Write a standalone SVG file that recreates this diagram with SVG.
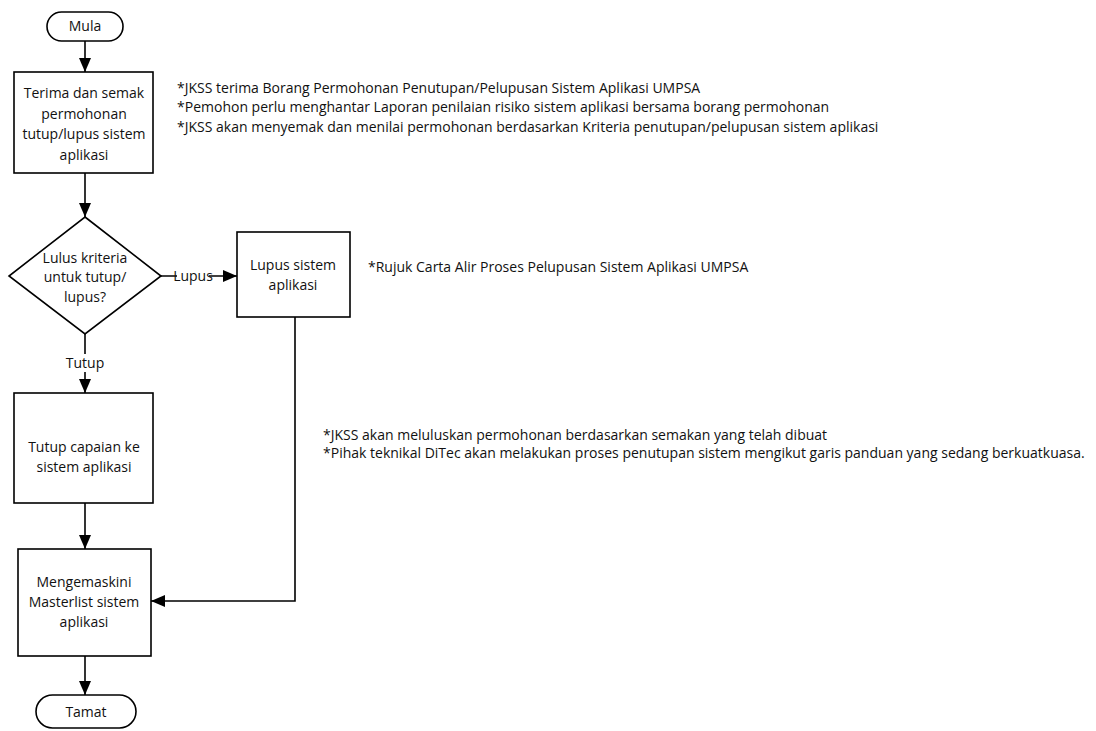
<svg xmlns="http://www.w3.org/2000/svg" width="1096" height="731" viewBox="0 0 1096 731">
<defs>
<style>
text{font-family:"Open Sans","Liberation Sans",sans-serif;font-size:14px;fill:#111}
.c{text-anchor:middle}
.s{fill:#fff;stroke:#000;stroke-width:1.6}
.l{fill:none;stroke:#000;stroke-width:1.6}
</style>
<marker id="ah" markerWidth="14" markerHeight="12" refX="14" refY="6" orient="auto" markerUnits="userSpaceOnUse">
<path d="M0,0 L14,6 L0,12 Z" fill="#000"/>
</marker>
</defs>
<rect width="1096" height="731" fill="#fff"/>
<g id="connectors">
<path class="l" d="M85,41 V72" marker-end="url(#ah)"/>
<path class="l" d="M85,173 V217" marker-end="url(#ah)"/>
<path class="l" d="M159,276 H237" marker-end="url(#ah)"/>
<path class="l" d="M85,334 V354"/>
<path class="l" d="M85,372 V393" marker-end="url(#ah)"/>
<path class="l" d="M85,503 V549" marker-end="url(#ah)"/>
<path class="l" d="M295,317 V601 H151" marker-end="url(#ah)"/>
<path class="l" d="M85,656 V695" marker-end="url(#ah)"/>
<rect x="177" y="268" width="32" height="17" fill="#fff"/>
<text x="193" y="281" class="c">Lupus</text>
<text x="85" y="368" class="c">Tutup</text>
</g>
<g id="mula">
<rect class="s" x="47" y="12" width="76" height="29" rx="14.5"/>
<text x="85" y="31" class="c">Mula</text>
</g>
<g id="terima">
<rect class="s" x="14" y="72" width="139" height="101"/>
<text x="84" y="98" class="c">Terima dan semak</text>
<text x="84" y="119" class="c">permohonan</text>
<text x="84" y="139" class="c">tutup/lupus sistem</text>
<text x="84" y="160" class="c">aplikasi</text>
</g>
<g id="note1">
<text x="177" y="93">*JKSS terima Borang Permohonan Penutupan/Pelupusan Sistem Aplikasi UMPSA</text>
<text x="177" y="112">*Pemohon perlu menghantar Laporan penilaian risiko sistem aplikasi bersama borang permohonan</text>
<text x="177" y="132">*JKSS akan menyemak dan menilai permohonan berdasarkan Kriteria penutupan/pelupusan sistem aplikasi</text>
</g>
<g id="keputusan">
<path class="s" d="M85,217 L161,276 L85,334 L9,276 Z"/>
<text x="85" y="263" class="c">Lulus kriteria</text>
<text x="85" y="282" class="c">untuk tutup/</text>
<text x="85" y="302" class="c">lupus?</text>
</g>
<g id="lupus">
<rect class="s" x="237" y="232" width="113" height="85"/>
<text x="293" y="270" class="c">Lupus sistem</text>
<text x="293" y="290" class="c">aplikasi</text>
</g>
<g id="note2">
<text x="368" y="272">*Rujuk Carta Alir Proses Pelupusan Sistem Aplikasi UMPSA</text>
</g>
<g id="tutup">
<rect class="s" x="14" y="393" width="139" height="110"/>
<text x="84" y="452" class="c">Tutup capaian ke</text>
<text x="84" y="472" class="c">sistem aplikasi</text>
</g>
<g id="note3">
<text x="323" y="440">*JKSS akan meluluskan permohonan berdasarkan semakan yang telah dibuat</text>
<text x="323" y="458">*Pihak teknikal DiTec akan melakukan proses penutupan sistem mengikut garis panduan yang sedang berkuatkuasa.</text>
</g>
<g id="kemaskini">
<rect class="s" x="18" y="549" width="133" height="107"/>
<text x="84" y="587" class="c">Mengemaskini</text>
<text x="84" y="607" class="c">Masterlist sistem</text>
<text x="84" y="627" class="c">aplikasi</text>
</g>
<g id="tamat">
<rect class="s" x="36" y="695" width="100" height="33" rx="16.5"/>
<text x="86" y="717" class="c">Tamat</text>
</g>
</svg>
